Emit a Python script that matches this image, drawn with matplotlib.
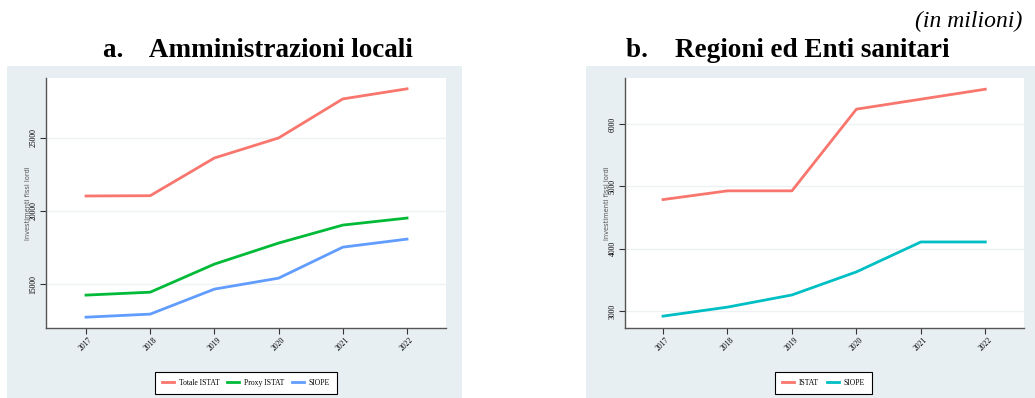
import matplotlib
matplotlib.use("Agg")
import matplotlib.pyplot as plt
from matplotlib.patches import Rectangle

years = [2017, 2018, 2019, 2020, 2021, 2022]

# a. Amministrazioni locali
totale_istat = [21030, 21050, 23630, 25000, 27670, 28360]
proxy_istat = [14250, 14450, 16370, 17810, 19040, 19520]
siope_loc = [12740, 12950, 14660, 15410, 17530, 18080]

# b. Regioni ed Enti sanitari
istat_reg = [4790, 4930, 4930, 6240, 6400, 6560]
siope_reg = [2920, 3065, 3260, 3630, 4110, 4110]

RED = "#F8766D"
GREEN = "#00BA38"
BLUE = "#619CFF"
CYAN = "#00BFC4"
PANEL = "#e8eff2"

W, H = 1035, 398
fig = plt.figure(figsize=(W / 100, H / 100), dpi=100)


def px(x0, y0, x1, y1):
    # pixel box -> figure fraction [left, bottom, width, height]
    return [x0 / W, 1 - y1 / H, (x1 - x0) / W, (y1 - y0) / H]


for box in [(7, 66, 462, 398), (586, 66, 1035, 398)]:
    l, b, w, h = px(*box)
    fig.patches.append(Rectangle((l, b), w, h, transform=fig.transFigure,
                                 facecolor=PANEL, edgecolor="none", zorder=-5))


def style(ax, xlim, ylim, yticks):
    ax.set_facecolor("white")
    ax.set_xlim(*xlim)
    ax.set_ylim(*ylim)
    ax.set_xticks(years)
    ax.set_xticklabels([str(y) for y in years], rotation=45, fontsize=5.5,
                       family="Liberation Serif")
    ax.set_yticks(yticks)
    ax.set_yticklabels([str(t) for t in yticks], rotation=90, fontsize=5.5,
                       va="center", family="Liberation Serif")
    for s in ["top", "right"]:
        ax.spines[s].set_visible(False)
    for s in ["left", "bottom"]:
        ax.spines[s].set_color("#555555")
        ax.spines[s].set_linewidth(1.0)
    ax.tick_params(length=4, width=0.8, color="#333333", pad=2)
    ax.grid(axis="y", color="#eef2f4", linewidth=1.0)
    ax.set_axisbelow(True)
    ax.set_ylabel("Investimenti fissi lordi", fontsize=4.8, color="#555555",
                  labelpad=-1)


ax1 = fig.add_axes(px(46, 78, 446, 328))
ax1.plot(years, totale_istat, color=RED, lw=2, label="Totale ISTAT")
ax1.plot(years, proxy_istat, color=GREEN, lw=2, label="Proxy ISTAT")
ax1.plot(years, siope_loc, color=BLUE, lw=2, label="SIOPE")
style(ax1, (2016.377, 2022.607), (12000, 29100), [15000, 20000, 25000])
leg1 = ax1.legend(loc="center", bbox_to_anchor=(0.5, -0.22), ncol=3,
                  fancybox=False, edgecolor="black", framealpha=1,
                  prop={"family": "Liberation Serif", "size": 5.5},
                  handlelength=1.6, handletextpad=0.6, columnspacing=1.0,
                  borderpad=0.9)
leg1.get_frame().set_linewidth(0.8)

ax2 = fig.add_axes(px(625, 78, 1024, 328))
ax2.plot(years, istat_reg, color=RED, lw=2, label="ISTAT")
ax2.plot(years, siope_reg, color=CYAN, lw=2, label="SIOPE")
style(ax2, (2016.41, 2022.6), (2730, 6740), [3000, 4000, 5000, 6000])
leg2 = ax2.legend(loc="center", bbox_to_anchor=(0.4975, -0.22), ncol=2,
                  fancybox=False, edgecolor="black", framealpha=1,
                  prop={"family": "Liberation Serif", "size": 5.5},
                  handlelength=1.6, handletextpad=0.6, columnspacing=1.0,
                  borderpad=0.9)
leg2.get_frame().set_linewidth(0.8)

fig.text(258 / W, 1 - 57 / H, "a.    Amministrazioni locali", ha="center",
         va="baseline", fontsize=19.5, fontweight="bold",
         family="Liberation Serif")
fig.text(788 / W, 1 - 57 / H, "b.    Regioni ed Enti sanitari", ha="center",
         va="baseline", fontsize=19.5, fontweight="bold",
         family="Liberation Serif")
fig.text(1022 / W, 1 - 27 / H, "(in milioni)", ha="right", va="baseline",
         fontsize=17, style="italic", family="Liberation Serif")

fig.savefig("out.png", dpi=100)
